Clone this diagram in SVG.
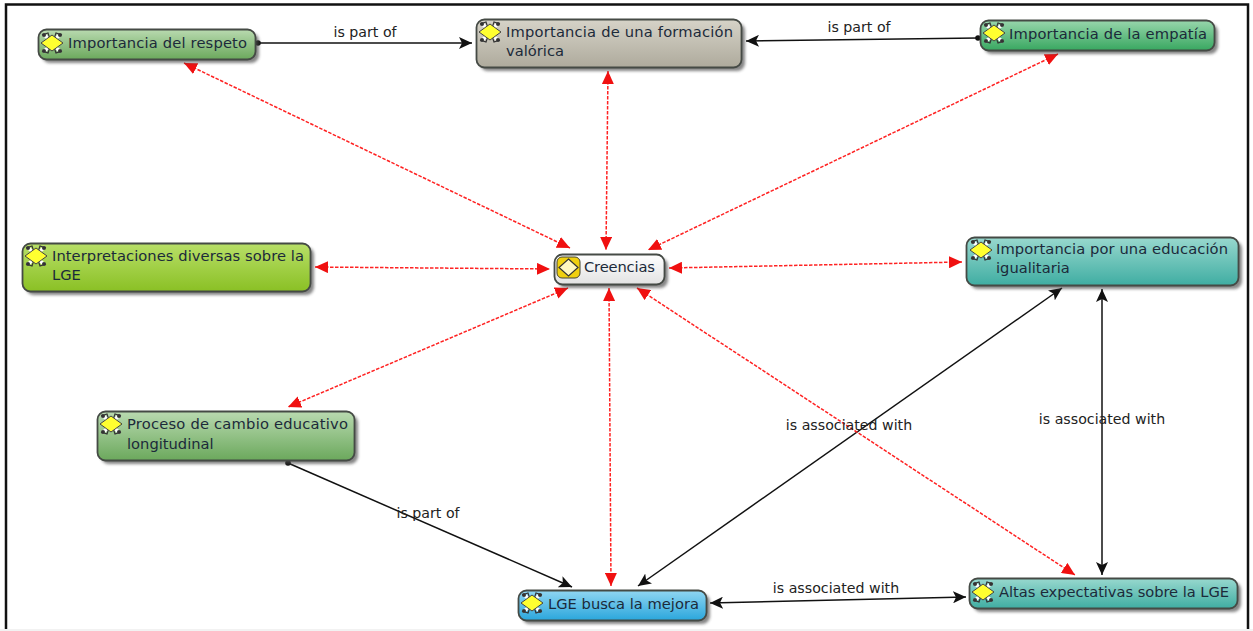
<svg xmlns="http://www.w3.org/2000/svg" width="1253" height="631" viewBox="0 0 1253 631">
<style>
text{font-family:"DejaVu Sans",sans-serif;font-size:14.7px;fill:#1c2a3a}
.lbl{fill:#222;font-size:14.2px;text-anchor:middle}
.box{stroke:#454a45;stroke-width:1.8}
.shadow{fill:#444;opacity:.65;filter:url(#sh)}
.k{fill:none;stroke:#111;stroke-width:1.5}
.r{fill:none;stroke:#f22;stroke-width:1.5;stroke-dasharray:3.500 1.500}
</style>
<defs>
<filter id="sh" x="-10%" y="-30%" width="120%" height="160%"><feGaussianBlur stdDeviation="1.5"/></filter>
<marker id="ra" viewBox="0 0 13 12" refX="13" refY="6" markerWidth="13" markerHeight="12" markerUnits="userSpaceOnUse" orient="auto-start-reverse"><path d="M0 0L13 6L0 12Z" fill="#f01010"/></marker>
<marker id="ka" viewBox="0 0 13 12" refX="13" refY="6" markerWidth="13" markerHeight="12" markerUnits="userSpaceOnUse" orient="auto-start-reverse"><path d="M0 0L13 6L0 12L3 6Z" fill="#111"/></marker>
<marker id="kd" viewBox="0 0 6 6" refX="3" refY="3" markerWidth="6" markerHeight="6" markerUnits="userSpaceOnUse"><circle cx="3" cy="3" r="2.800" fill="#111"/></marker>
<linearGradient id="gGreen" x1="0" y1="0" x2="0" y2="1"><stop offset="0" stop-color="#b9dab0"/><stop offset="1" stop-color="#6ba85c"/></linearGradient>
<linearGradient id="gGray" x1="0" y1="0" x2="0" y2="1"><stop offset="0" stop-color="#d6d3c8"/><stop offset="1" stop-color="#aeaa9c"/></linearGradient>
<linearGradient id="gEmp" x1="0" y1="0" x2="0" y2="1"><stop offset="0" stop-color="#98d6ac"/><stop offset="1" stop-color="#38a760"/></linearGradient>
<linearGradient id="gLime" x1="0" y1="0" x2="0" y2="1"><stop offset="0" stop-color="#b8df68"/><stop offset="1" stop-color="#8ac024"/></linearGradient>
<linearGradient id="gWhite" x1="0" y1="0" x2="0" y2="1"><stop offset="0" stop-color="#fff"/><stop offset="1" stop-color="#e2e2e2"/></linearGradient>
<linearGradient id="gTeal" x1="0" y1="0" x2="0" y2="1"><stop offset="0" stop-color="#98d8ce"/><stop offset="1" stop-color="#3fada2"/></linearGradient>
<linearGradient id="gBlue" x1="0" y1="0" x2="0" y2="1"><stop offset="0" stop-color="#90d6f2"/><stop offset="1" stop-color="#2aa6dc"/></linearGradient>
<g id="ic">
<path d="M-9-9L-3-4M9-9L3-4M-9 9L-3 4M9 9L3 4" stroke="#fff" stroke-width="3.500"/>
<path d="M-10-8L-4-10L-2-4M10-8L4-10L2-4M-10 8L-4 10L-2 4M10 8L4 10L2 4" fill="none" stroke="#333" stroke-width="1.200"/>
<g fill="#333"><circle cx="-8" cy="-8" r="2"/><circle cx="8" cy="-8" r="2"/><circle cx="-8" cy="8" r="2"/><circle cx="8" cy="8" r="2"/></g>
<path d="M0-8L11 0L0 8L-11 0Z" fill="#ffff30" stroke="#444" stroke-width="1"/>
</g>
</defs>
<rect width="1253" height="631" fill="#fff"/>
<rect x="6" y="4.500" width="1242" height="640" fill="none" stroke="#111" stroke-width="2.500"/>
<rect x="0" y="629" width="1253" height="2" fill="#f2f2f2"/>
<g id="connectors">
<path class="k" marker-start="url(#kd)" marker-end="url(#ka)" d="M258 43L472 43"/>
<path class="k" marker-start="url(#kd)" marker-end="url(#ka)" d="M978 38L746 41"/>
<path class="k" marker-start="url(#kd)" marker-end="url(#ka)" d="M288 463L572 587"/>
<path class="k" marker-start="url(#ka)" marker-end="url(#ka)" d="M1062 288L638 586"/>
<path class="k" marker-start="url(#ka)" marker-end="url(#ka)" d="M1102 289L1102 575"/>
<path class="k" marker-start="url(#ka)" marker-end="url(#ka)" d="M710 603L966 597"/>
<path class="r" marker-start="url(#ra)" marker-end="url(#ra)" d="M184 63L570 248"/>
<path class="r" marker-start="url(#ra)" marker-end="url(#ra)" d="M608 71L606 250"/>
<path class="r" marker-start="url(#ra)" marker-end="url(#ra)" d="M1058 54L648 250"/>
<path class="r" marker-start="url(#ra)" marker-end="url(#ra)" d="M315 267L550 269"/>
<path class="r" marker-start="url(#ra)" marker-end="url(#ra)" d="M669 268L962 262"/>
<path class="r" marker-start="url(#ra)" marker-end="url(#ra)" d="M568 288L288 407"/>
<path class="r" marker-start="url(#ra)" marker-end="url(#ra)" d="M609 288L611 586"/>
<path class="r" marker-start="url(#ra)" marker-end="url(#ra)" d="M637 288L1075 575"/>
<text class="lbl" x="365" y="37">is part of</text>
<text class="lbl" x="859" y="32">is part of</text>
<text class="lbl" x="428" y="518">is part of</text>
<text class="lbl" x="849" y="430">is associated with</text>
<text class="lbl" x="1102" y="424">is associated with</text>
<text class="lbl" x="836" y="593">is associated with</text>
</g>
<g id="n1"><rect class="shadow" x="42" y="33" width="217" height="30" rx="8"/><rect class="box" x="38.500" y="29.500" width="217" height="30" rx="8" fill="url(#gGreen)"/><use href="#ic" x="52" y="43"/><text x="68" y="48" textLength="179">Importancia del respeto</text></g>
<g id="n2"><rect class="shadow" x="480" y="23" width="265" height="48" rx="8"/><rect class="box" x="476.500" y="19.500" width="265" height="48" rx="8" fill="url(#gGray)"/><use href="#ic" x="490" y="32"/><text x="506" y="37" textLength="227">Importancia de una formación</text><text x="506" y="56">valórica</text></g>
<g id="n3"><rect class="shadow" x="984" y="24" width="234" height="30" rx="8"/><rect class="box" x="980.500" y="20.500" width="234" height="30" rx="8" fill="url(#gEmp)"/><use href="#ic" x="994" y="33"/><text x="1009" y="39" textLength="198">Importancia de la empatía</text></g>
<g id="n4"><rect class="shadow" x="26" y="247" width="288" height="48" rx="8"/><rect class="box" x="22.500" y="243.500" width="288" height="48" rx="8" fill="url(#gLime)"/><use href="#ic" x="36" y="256"/><text x="52" y="261" textLength="252">Interpretaciones diversas sobre la</text><text x="52" y="280">LGE</text></g>
<g id="n5"><rect class="shadow" x="558" y="258" width="110" height="30" rx="8"/><rect class="box" x="554.500" y="254.500" width="110" height="30" rx="8" fill="url(#gWhite)"/><rect x="557" y="257" width="23" height="21" rx="5" fill="#f0d010" stroke="#443" stroke-width="1"/><path d="M568.500 259L578 267.500L568.500 276L559 267.500Z" fill="#fff8c0" stroke="#333" stroke-width="1.200"/><text x="584" y="272" textLength="71">Creencias</text></g>
<g id="n6"><rect class="shadow" x="970" y="241" width="272" height="48" rx="8"/><rect class="box" x="966.500" y="237.500" width="272" height="48" rx="8" fill="url(#gTeal)"/><use href="#ic" x="981" y="250"/><text x="996" y="254" textLength="232">Importancia por una educación</text><text x="996" y="273">igualitaria</text></g>
<g id="n7"><rect class="shadow" x="101" y="415" width="257" height="49" rx="8"/><rect class="box" x="97.500" y="411.500" width="257" height="49" rx="8" fill="url(#gGreen)"/><use href="#ic" x="111" y="424"/><text x="127" y="429" textLength="221">Proceso de cambio educativo</text><text x="127" y="449">longitudinal</text></g>
<g id="n8"><rect class="shadow" x="522" y="594" width="188" height="30" rx="8"/><rect class="box" x="518.500" y="590.500" width="188" height="30" rx="8" fill="url(#gBlue)"/><use href="#ic" x="532" y="603"/><text x="548" y="609" textLength="151">LGE busca la mejora</text></g>
<g id="n9"><rect class="shadow" x="973" y="582" width="268" height="30" rx="8"/><rect class="box" x="969.500" y="578.500" width="268" height="30" rx="8" fill="url(#gTeal)"/><use href="#ic" x="983" y="592"/><text x="999" y="597" textLength="230">Altas expectativas sobre la LGE</text></g>
</svg>
